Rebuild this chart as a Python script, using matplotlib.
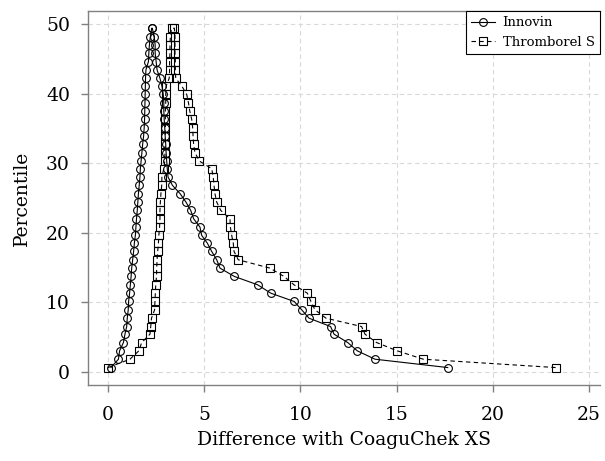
import matplotlib
matplotlib.use("Agg")
import matplotlib.pyplot as plt

innovin_up_x = [0.15, 0.54, 0.6, 0.8, 0.88, 0.97, 1.0, 1.05, 1.07, 1.12, 1.16, 1.2, 1.23, 1.28,
                1.33, 1.37, 1.42, 1.45, 1.48, 1.52, 1.55, 1.58, 1.62, 1.66, 1.68, 1.72, 1.76,
                1.8, 1.85, 1.88, 1.9, 1.91, 1.92, 1.93, 1.94, 1.95, 1.97, 2.1, 2.12, 2.15, 2.2, 2.27]
innovin_down_x = [2.3, 2.4, 2.45, 2.45, 2.5, 2.55, 2.7, 2.8, 2.87, 2.9, 2.9, 2.92, 2.95, 2.97,
                  3.0, 3.02, 3.05, 3.08, 3.12, 3.35, 3.75, 4.05, 4.3, 4.45, 4.78, 4.87, 5.16,
                  5.39, 5.65, 5.82, 6.57, 7.78, 8.46, 9.68, 10.07, 10.45, 11.57, 11.75, 12.46,
                  12.96, 13.88, 17.66]
thromb_up_x = [0.0, 1.14, 1.6, 1.75, 2.18, 2.22, 2.26, 2.42, 2.44, 2.46, 2.48, 2.52, 2.53, 2.55,
               2.58, 2.62, 2.64, 2.68, 2.7, 2.7, 2.72, 2.75, 2.79, 2.8, 2.9, 2.95, 2.96, 2.97,
               2.97, 2.98, 2.98, 2.98, 3.0, 3.0, 3.02, 3.18, 3.2, 3.2, 3.22, 3.22, 3.24, 3.3]
thromb_down_x = [3.45, 3.48, 3.48, 3.48, 3.5, 3.5, 3.52, 3.83, 4.09, 4.18, 4.25, 4.35, 4.4, 4.42,
                 4.45, 4.52, 4.75, 5.39, 5.47, 5.51, 5.56, 5.65, 5.86, 6.34, 6.36, 6.43, 6.51,
                 6.55, 6.77, 8.42, 9.15, 9.67, 10.36, 10.55, 10.76, 11.33, 13.18, 13.36, 13.96,
                 15.04, 16.39, 23.27]

pct_up = [0.6, 1.8, 3.0, 4.2, 5.4, 6.5, 7.7, 8.9, 10.1, 11.3, 12.5, 13.7, 14.9, 16.1, 17.3,
          18.5, 19.6, 20.8, 22.0, 23.2, 24.4, 25.6, 26.8, 28.0, 29.2, 30.3, 31.5, 32.7, 33.9,
          35.1, 36.3, 37.5, 38.7, 39.9, 41.1, 42.2, 43.4, 44.6, 45.8, 47.0, 48.2, 49.4]
pct_down = pct_up[::-1]

plt.rcParams['font.family'] = ['DejaVu Serif']

fig = plt.figure(figsize=(6.05, 4.61), dpi=100)
ax = fig.add_axes([0.1455, 0.165, 0.846, 0.811])

grey = '#808080'
ax.plot(innovin_up_x + innovin_down_x, pct_up + pct_down, color='black', lw=0.8,
        marker='o', ms=5.6, mfc='none', mec='black', mew=0.8, label='Innovin')
ax.plot(thromb_up_x + thromb_down_x, pct_up + pct_down, color='black', lw=0.8, ls=(0, (4, 3)),
        marker='s', ms=5.8, mfc='none', mec='black', mew=0.8, label='Thromborel S')

ax.set_xlim(-1.04, 25.57)
ax.set_ylim(-1.9, 51.87)
ax.set_xticks([0, 5, 10, 15, 20, 25])
ax.set_yticks([0, 10, 20, 30, 40, 50])
ax.grid(True, color='#d9d9d9', ls=(0, (4, 3)), lw=0.8)
ax.set_axisbelow(True)

ax.spines['right'].set_visible(False)
for s in ['left', 'top', 'bottom']:
    ax.spines[s].set_color(grey)
    ax.spines[s].set_linewidth(1.0)
ax.tick_params(colors=grey, labelcolor='black', labelsize=13.5, length=5, width=1.0)
ax.tick_params(axis='x', pad=10)
ax.tick_params(axis='y', pad=8)

ax.set_xlabel('Difference with CoaguChek XS', fontsize=13.5, labelpad=5)
ax.set_ylabel('Percentile', fontsize=13.5, labelpad=11)

leg = ax.legend(loc='upper right', fontsize=9.5, borderaxespad=0, fancybox=False,
                handlelength=1.8, handletextpad=0.6, framealpha=1, edgecolor='black')
leg.get_frame().set_linewidth(0.8)

fig.savefig('out.png', dpi=100)
